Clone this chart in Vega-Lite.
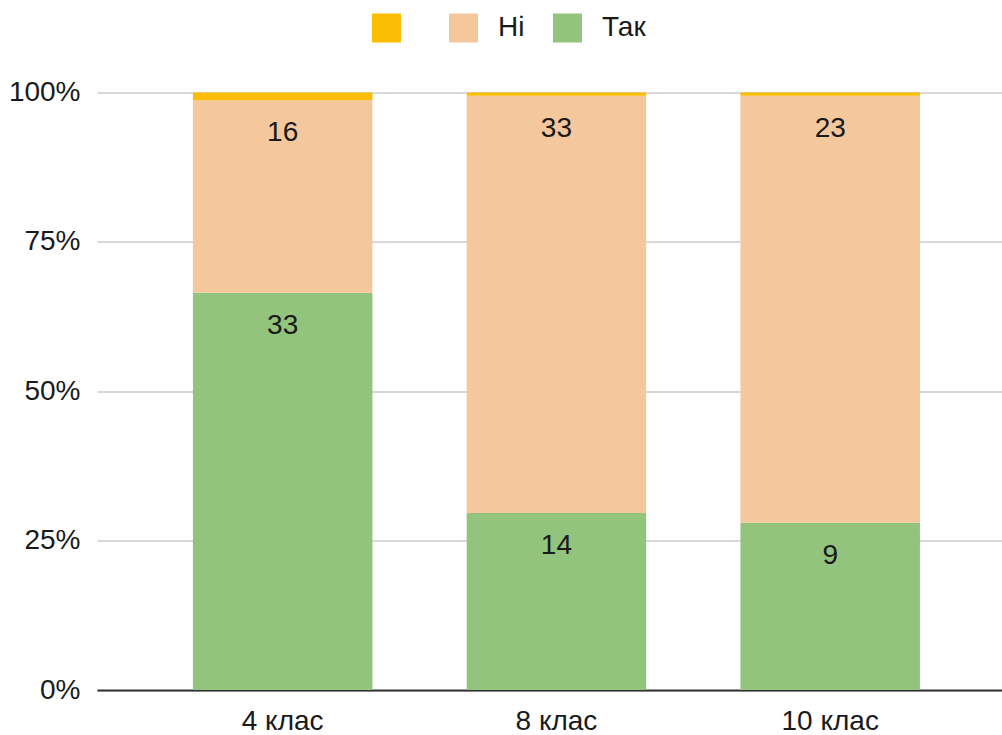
{
  "$schema": "https://vega.github.io/schema/vega-lite/v6.json",
  "width": 905,
  "height": 597.5,
  "autosize": {"type": "none"},
  "padding": {"left": 97, "top": 92.5, "right": 0, "bottom": 45},
  "background": "white",
  "config": {"font": "Liberation Sans", "view": {"stroke": null}},
  "data": {
    "values": [
      {"grade": "4 клас", "series": "Так", "value": 33},
      {"grade": "4 клас", "series": "Ні", "value": 16},
      {"grade": "4 клас", "series": "", "value": 0.65},
      {"grade": "8 клас", "series": "Так", "value": 14},
      {"grade": "8 клас", "series": "Ні", "value": 33},
      {"grade": "8 клас", "series": "", "value": 0.25},
      {"grade": "10 клас", "series": "Так", "value": 9},
      {"grade": "10 клас", "series": "Ні", "value": 23},
      {"grade": "10 клас", "series": "", "value": 0.17}
    ]
  },
  "encoding": {
    "x": {
      "field": "grade",
      "type": "nominal",
      "sort": ["4 клас", "8 клас", "10 клас"],
      "scale": {"paddingInner": 0.3443, "paddingOuter": 0.325, "align": 0.539, "round": false},
      "axis": {
        "title": null,
        "labelAngle": 0,
        "ticks": false,
        "domainColor": "#333333",
        "domainWidth": 2,
        "labelFontSize": 28,
        "labelColor": "#1a1a1a",
        "labelPadding": 17
      }
    },
    "y": {
      "field": "value",
      "type": "quantitative",
      "stack": "normalize",
      "scale": {"domain": [0, 1]},
      "axis": {
        "title": null,
        "values": [0, 0.25, 0.5, 0.75, 1],
        "format": ".0%",
        "domain": false,
        "ticks": false,
        "gridColor": "#cccccc",
        "gridWidth": 1.5,
        "labelFontSize": 28,
        "labelColor": "#1a1a1a",
        "labelPadding": 17
      }
    },
    "order": {"field": "series", "sort": "descending"}
  },
  "layer": [
    {
      "mark": {"type": "bar"},
      "encoding": {
        "color": {
          "field": "series",
          "type": "nominal",
          "scale": {"domain": ["", "Ні", "Так"], "range": ["#fbbc04", "#f4c79c", "#93c47d"]},
          "legend": {
            "title": null,
            "orient": "none",
            "direction": "horizontal",
            "legendX": 275,
            "legendY": -79,
            "symbolType": "square",
            "symbolSize": 841,
            "symbolStrokeWidth": 0,
            "symbolOpacity": 1,
            "labelFontSize": 28,
            "labelColor": "#1a1a1a",
            "labelOffset": 20,
            "columnPadding": 28,
            "padding": 0
          }
        }
      }
    },
    {
      "mark": {"type": "text", "baseline": "middle", "dy": 33, "fontSize": 28, "color": "#1a1a1a"},
      "encoding": {
        "detail": {"field": "series", "type": "nominal"},
        "text": {
          "condition": {"test": "datum.series === ''", "value": ""},
          "field": "value",
          "type": "quantitative"
        }
      }
    }
  ]
}
